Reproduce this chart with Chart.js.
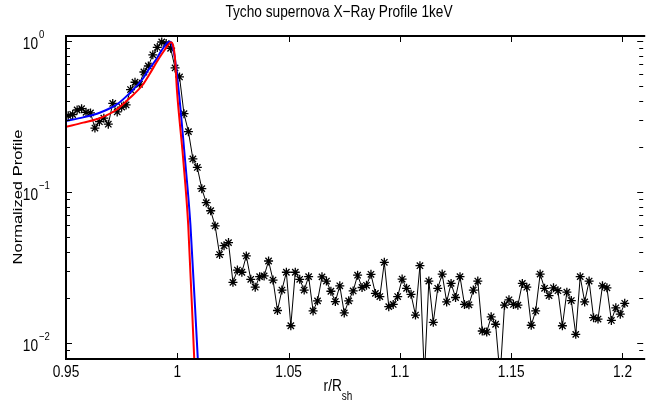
<!DOCTYPE html>
<html>
<head>
<meta charset="utf-8">
<script src="https://cdn.jsdelivr.net/npm/chart.js@4.4.1/dist/chart.umd.min.js"></script>
<style>
body{margin:0;background:#fff;}
#wrap{width:649px;height:405px;}
</style>
</head>
<body>
<div id="wrap"><canvas id="myChart" width="649" height="405"></canvas></div>
<script>
// measured profile, r/Rsh samples
const rData=[0.951,0.953,0.955,0.957,0.959,0.961,0.963,0.965,0.967,0.969,
  0.971,0.973,0.975,0.977,0.979,0.981,0.983,0.985,0.987,0.989,
  0.991,0.993,0.995,0.997,0.999,1.001,1.003,1.005,1.007,1.009,
  1.011,1.013,1.015,1.017,1.019,1.021,1.023,1.025,1.027,1.029,
  1.031,1.033,1.035,1.037,1.039,1.041,1.043,1.045,1.047,1.049,
  1.051,1.053,1.055,1.057,1.059,1.061,1.063,1.065,1.067,1.069,
  1.071,1.073,1.075,1.077,1.079,1.081,1.083,1.085,1.087,1.089,
  1.091,1.093,1.095,1.097,1.099,1.101,1.103,1.105,1.107,1.109,
  1.111,1.113,1.115,1.117,1.119,1.121,1.123,1.125,1.127,1.129,
  1.131,1.133,1.135,1.137,1.139,1.141,1.143,1.145,1.147,1.149,
  1.151,1.153,1.155,1.157,1.159,1.161,1.163,1.165,1.167,1.169,
  1.171,1.173,1.175,1.177,1.179,1.181,1.183,1.185,1.187,1.189,
  1.191,1.193,1.195,1.197,1.199,1.201];
const profile=[0.320,0.326,0.349,0.356,0.337,0.334,0.265,0.292,0.308,0.281,
  0.386,0.339,0.365,0.377,0.477,0.533,0.517,0.623,0.683,0.810,
  0.906,0.985,0.962,0.895,0.663,0.578,0.330,0.251,0.1655,0.1453,
  0.1052,0.0849,0.0751,0.0596,0.0385,0.0441,0.0462,0.0252,0.0304,0.0294,
  0.0377,0.0264,0.0234,0.0275,0.0278,0.0349,0.0261,0.0164,0.0224,0.0294,
  0.0130,0.0294,0.0264,0.0224,0.0275,0.0163,0.0190,0.0274,0.0257,0.0220,
  0.0188,0.0239,0.0158,0.0190,0.0221,0.0281,0.0233,0.0241,0.0285,0.0213,
  0.0203,0.0342,0.0174,0.0180,0.0203,0.0265,0.0230,0.0210,0.0153,0.0325,
  0.0060,0.0257,0.0137,0.0230,0.0286,0.0187,0.0248,0.0200,0.0275,0.0180,
  0.0179,0.0224,0.0257,0.0120,0.0118,0.0149,0.0133,0.0060,0.0178,0.0193,
  0.0180,0.0178,0.0248,0.0234,0.0131,0.0163,0.0286,0.0230,0.0206,0.0232,
  0.0222,0.0130,0.0217,0.0191,0.0114,0.0275,0.0187,0.0257,0.0147,0.0144,
  0.0239,0.0232,0.0141,0.0171,0.0155,0.0183];

// model curves
const rBlue=[0.950,0.9577,0.9651,0.9725,0.9785,0.9844,0.9873,0.9904,0.9926,0.9944,0.9958,0.9967,0.9976,0.9989,1.0007,1.0034,1.0059,1.0092,1.0115];
const blueModel=[0.295,0.312,0.335,0.377,0.45,0.56,0.652,0.75,0.85,0.93,0.98,0.99,0.95,0.77,0.459,0.168,0.0605,0.0079,0.002];
const rRed=[0.950,0.9577,0.9651,0.9725,0.9785,0.9844,0.9873,0.9918,0.9945,0.9961,0.9972,0.9980,0.9989,0.9999,1.0026,1.0049,1.0076,1.0095];
const redModel=[0.270,0.288,0.308,0.349,0.417,0.511,0.596,0.768,0.88,0.95,0.98,0.95,0.79,0.459,0.168,0.0605,0.0079,0.002];

const xTicks=[0.95,1,1.05,1.1,1.15,1.2];
const xLabels=['0.95','1','1.05','1.1','1.15','1.2'];
const yTicks=[0.01,0.1,1];
const yExp=['\u22122','\u22121','0'];

const FONT='"Liberation Sans", Arial, Helvetica, sans-serif';
const SQ=0.83; // text in the picture is narrow and tall

function pts(xs,ys){ return xs.map((x,i)=>({x:x,y:ys[i]})); }

function txt(ctx,s,x,y,size,align){
  ctx.save();
  ctx.translate(x,y);
  ctx.scale(SQ,1);
  ctx.font=size+'px '+FONT;
  ctx.textAlign=align;
  ctx.textBaseline='alphabetic';
  ctx.fillText(s,0,0);
  const w=ctx.measureText(s).width*SQ;
  ctx.restore();
  return w;
}

const frame={
  id:'frame',
  afterDraw(chart){
    const ctx=chart.ctx, a=chart.chartArea, x=chart.scales.x, y=chart.scales.y;
    ctx.save();
    ctx.strokeStyle='#000';
    ctx.lineWidth=1;
    ctx.beginPath();
    xTicks.forEach(v=>{
      const px=Math.round(x.getPixelForValue(v))+0.5;
      ctx.moveTo(px,a.bottom); ctx.lineTo(px,a.bottom-6);
      ctx.moveTo(px,a.top); ctx.lineTo(px,a.top+6);
    });
    // log minor ticks
    for(let e=-3;e<=0;e++){
      for(let m=1;m<=9;m++){
        const v=m*Math.pow(10,e);
        if(v<y.min||v>y.max) continue;
        const py=Math.round(y.getPixelForValue(v))+0.5;
        const len=(m==1)?6:4;
        ctx.moveTo(a.left,py); ctx.lineTo(a.left+len,py);
        ctx.moveTo(a.right,py); ctx.lineTo(a.right-len,py);
      }
    }
    ctx.stroke();
    // axes box (right side is off the picture)
    ctx.lineWidth=2;
    ctx.beginPath();
    ctx.moveTo(a.right+2,a.top); ctx.lineTo(a.left,a.top);
    ctx.lineTo(a.left,a.bottom); ctx.lineTo(a.right+2,a.bottom);
    ctx.stroke();

    ctx.fillStyle='#000';
    // x tick labels
    xTicks.forEach((v,i)=>{
      txt(ctx,xLabels[i],x.getPixelForValue(v),377,16.5,'center');
    });
    // y tick labels 10^n
    yTicks.forEach((v,i)=>{
      const py=y.getPixelForValue(v);
      txt(ctx,'10',38,py+8,16.5,'right');
      txt(ctx,yExp[i],39,py-3,11.5,'left');
    });
    // title
    txt(ctx,'Tycho supernova X\u2212Ray Profile 1keV',339,17,16.5,'center');
    // x label
    const w=txt(ctx,'r/R',0,-100,16.5,'left');
    const w2=txt(ctx,'sh',0,-100,12,'left');
    const x0=338-(w+w2)/2;
    txt(ctx,'r/R',x0,391,16.5,'left');
    txt(ctx,'sh',x0+w,400,12,'left');
    // y label
    ctx.save();
    ctx.translate(22,197);
    ctx.rotate(-Math.PI/2);
    ctx.scale(1,SQ);
    ctx.font='16.5px '+FONT;
    ctx.textAlign='center';
    ctx.fillText('Normalized Profile',0,0);
    ctx.restore();
    ctx.restore();
  }
};

const ctx=document.getElementById('myChart');
new Chart(ctx,{
  type:'scatter',
  data:{
    datasets:[{
      label:'model 2',
      data:pts(rRed,redModel),
      showLine:true,
      borderColor:'#ff0000',
      borderWidth:2,
      pointRadius:0,
      cubicInterpolationMode:'monotone'
    },{
      label:'model 1',
      data:pts(rBlue,blueModel),
      showLine:true,
      borderColor:'#0000ff',
      borderWidth:2,
      pointRadius:0,
      cubicInterpolationMode:'monotone'
    },{
      label:'data',
      data:pts(rData,profile),
      showLine:true,
      borderColor:'#000',
      borderWidth:1,
      pointStyle:'star',
      pointRadius:4.5,
      pointBorderColor:'#000',
      pointBorderWidth:1.3,
      pointBackgroundColor:'#000'
    }]
  },
  options:{
    responsive:false,
    animation:false,
    layout:{padding:{top:36,right:0,bottom:0,left:0}},
    plugins:{legend:{display:false},tooltip:{enabled:false},title:{display:false}},
    scales:{
      x:{
        type:'linear',
        min:0.95,
        max:1.2093,
        afterBuildTicks:(s)=>{ s.ticks=xTicks.map(v=>({value:v})); },
        afterFit:(s)=>{ s.height=46; },
        grid:{display:false,drawTicks:false},
        border:{display:false},
        ticks:{display:false}
      },
      y:{
        type:'logarithmic',
        min:0.00783,
        max:1.079,
        afterBuildTicks:(s)=>{ s.ticks=yTicks.map(v=>({value:v})); },
        afterFit:(s)=>{ s.width=66; },
        grid:{display:false,drawTicks:false},
        border:{display:false},
        ticks:{display:false}
      }
    }
  },
  plugins:[frame]
});
</script>
</body>
</html>
